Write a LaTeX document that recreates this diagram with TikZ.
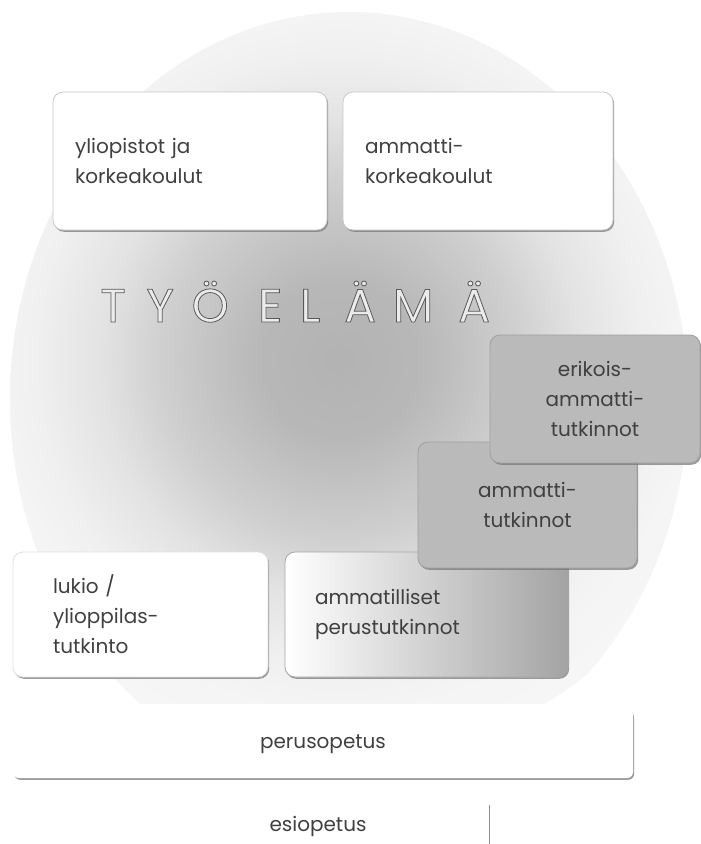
\documentclass[tikz,border=0pt]{standalone}
\usepackage{fontspec}
\setmainfont{Poppins}
\usetikzlibrary{shadows}
\pgfdeclareradialshading{glow}{\pgfpoint{0bp}{0bp}}{color(0bp)=(black!30); color(5bp)=(black!28); color(11bp)=(black!19); color(15bp)=(black!11); color(19bp)=(black!6); color(22bp)=(black!4); color(25bp)=(black!3.5); color(50bp)=(black!3.5)}
\newcommand\embossed[1]{\special{pdf:code q 2 Tr 0.8 w 0.35 0.35 0.35 RG}#1\special{pdf:code Q}}
\newcommand\lt[1]{\makebox[0pt]{#1}}
\begin{document}
\begin{tikzpicture}[x=1pt,y=-1pt,
  box/.style={rectangle, rounded corners=10pt, fill=white, draw=black!22, line width=0.8pt,
    drop shadow={shadow xshift=1.2pt, shadow yshift=-1.8pt, opacity=0.7, fill=black!55},
    text=black!75, font=\fontsize{20}{30}\selectfont, inner ysep=0pt},
  graybox/.style={box, fill=black!27, draw=black!38},
  lbl/.style={text=black!75, font=\fontsize{20}{30}\selectfont, inner sep=0pt},
  heaD/.style={font=\fontsize{47}{47}\selectfont, inner sep=0pt, anchor=base west},
  rule/.style={draw=black!45, line width=0.8pt}]
\useasboundingbox (0,0) rectangle (701,844);
\fill[white] (0,0) rectangle (701,844);
% background glow
\begin{scope}
  \clip (0,0) rectangle (701,703);
  \clip (349,399) ellipse [x radius=339, y radius=387];
  \shade[shading=glow] (340,360) circle [radius=400];
\end{scope}
% top boxes
\node[box, minimum width=274pt, minimum height=138pt, text width=230pt, inner xsep=22pt, align=left]
  (yo) at (190,161) {yliopistot ja\\korkeakoulut};
\node[box, minimum width=270pt, minimum height=138pt, text width=226pt, inner xsep=22pt, align=left]
  (amk) at (478,161) {ammatti-\\korkeakoulut};
% heading
\node[heaD, text=black!8] (head) at (113,322)
  {\embossed{\lt{T}\hspace{47pt}\lt{Y}\hspace{50pt}\lt{Ö}\hspace{60pt}\lt{E}\hspace{40pt}\lt{L}\hspace{50pt}\lt{Ä}\hspace{53pt}\lt{M}\hspace{61pt}\lt{Ä}}};
% lower boxes
\node[box, minimum width=283pt, minimum height=125pt, text width=223pt, inner xsep=30pt, align=left,
  left color=white, right color=black!36, draw=black!35]
  (amp) at (426.5,614.5) {ammatilliset\\perustutkinnot};
\node[graybox, minimum width=219pt, minimum height=126pt, text width=199pt, inner xsep=10pt, align=center]
  (amt) at (527.5,505) {ammatti-\\tutkinnot};
\node[graybox, minimum width=210pt, minimum height=128pt, text width=190pt, inner xsep=10pt, align=center]
  (eat) at (595,399) {erikois-\\ammatti-\\tutkinnot};
\node[box, draw=black!12, minimum width=255pt, minimum height=125pt, text width=175pt, inner xsep=40pt, align=left]
  (lukio) at (140.5,614.5) {lukio /\\ylioppilas-\\tutkinto};
\node[box, draw=none, rounded corners=6pt, minimum width=620pt, minimum height=68pt]
  (peru) at (323,744) {};
\node[lbl] (perut) at (peru.center) {perusopetus};
\node[lbl] (esi) at (318,826) {esiopetus};
\coordinate (vt) at (489,805);
\coordinate (vb) at (489,844);
\draw[rule] (vt) -- (vb);
\end{tikzpicture}
\end{document}
